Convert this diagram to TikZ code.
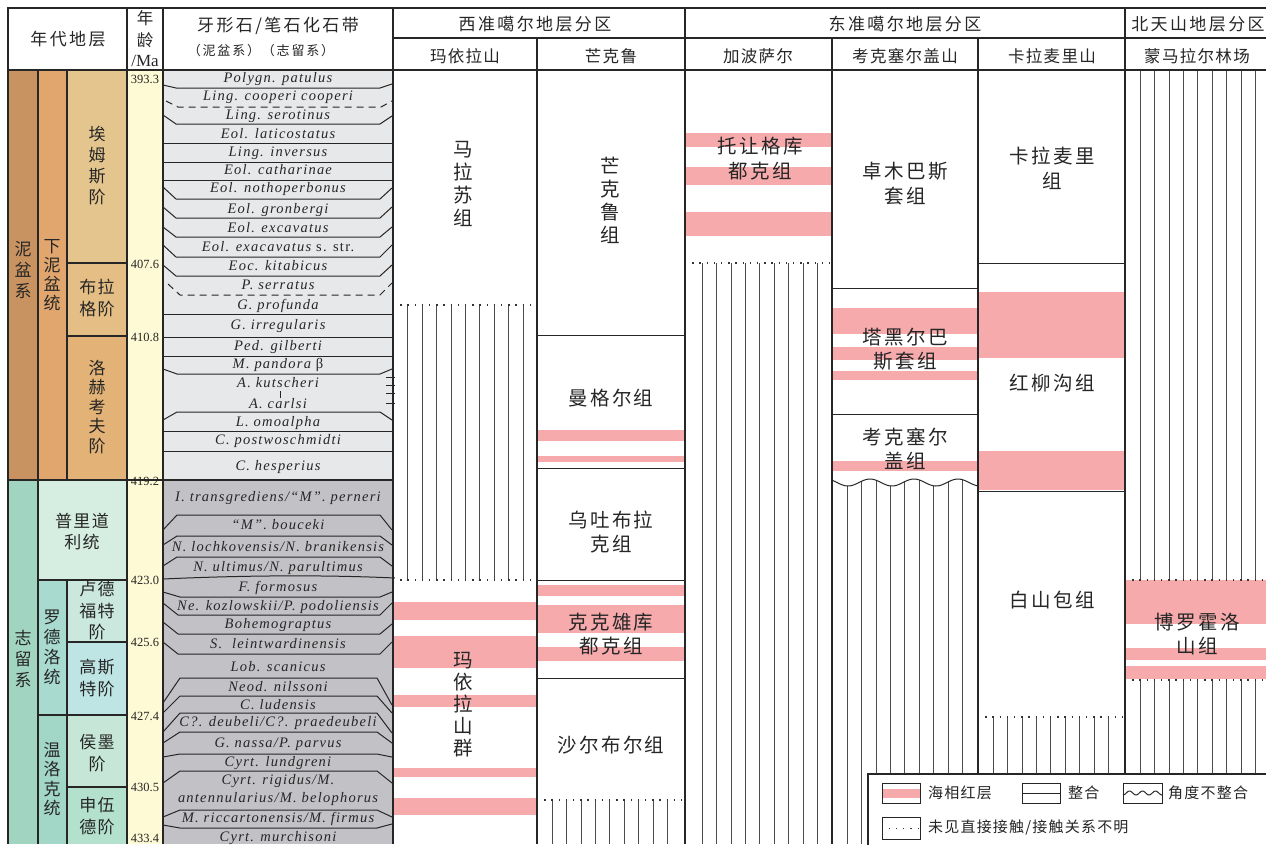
\documentclass[tikz,border=0pt]{standalone}
\usepackage{fontspec}
\setmainfont{Liberation Serif}
\newfontfamily\cjk{Noto Sans CJK SC}[LetterSpace=8]
\newfontfamily\cjkw{Noto Sans CJK SC}[LetterSpace=14]
\newfontfamily\cjkb{Noto Sans CJK SC}[LetterSpace=12]
\newfontfamily\fos{Liberation Serif}[LetterSpace=8.5]
\definecolor{cDev}{RGB}{200,147,96}
\definecolor{cDevL}{RGB}{225,166,110}
\definecolor{cEms}{RGB}{228,197,142}
\definecolor{cPra}{RGB}{228,190,132}
\definecolor{cLoc}{RGB}{226,178,118}
\definecolor{cSil}{RGB}{162,213,193}
\definecolor{cPri}{RGB}{214,237,225}
\definecolor{cLud}{RGB}{168,218,207}
\definecolor{cLdf}{RGB}{203,232,222}
\definecolor{cGor}{RGB}{190,228,228}
\definecolor{cWen}{RGB}{162,214,199}
\definecolor{cHom}{RGB}{198,231,216}
\definecolor{cShe}{RGB}{180,224,206}
\definecolor{cAge}{RGB}{255,250,214}
\definecolor{cFD}{RGB}{231,232,234}
\definecolor{cFS}{RGB}{194,194,198}
\definecolor{pk}{RGB}{246,170,172}
\newcommand\hatchrun[3]{\foreach \i in {0,...,8}{\draw[hat] ({#1+14.45*\i},#2) -- ({#1+14.45*\i},#3);}}
\tikzset{
  grid/.style={line width=1.2pt, draw=black!85},
  bnd/.style={line width=1pt, draw=black!85},
  hat/.style={line width=0.7pt, draw=black!70},
  dotl/.style={line width=1.3pt, draw=black!80, dash pattern=on 1.3pt off 5.9pt},
  fz/.style={font=\fos\fontsize{14.5}{17.5}\selectfont\itshape, inner sep=0pt, text=black!85, text height=10.4pt, text depth=1pt},
  zh/.style={font=\cjkb\fontsize{19.5}{23}\selectfont, align=center, inner sep=0pt, text=black!85},
  zhs/.style={font=\cjk\fontsize{16.5}{20}\selectfont, align=center, inner sep=0pt, text=black!85},
  hd/.style={font=\cjk\fontsize{16.5}{20}\selectfont, align=center, inner sep=0pt, text=black!85},
  hdw/.style={font=\cjkw\fontsize{17}{20}\selectfont, align=center, inner sep=0pt, text=black!85},
  lg/.style={font=\cjk\fontsize{15}{18}\selectfont, anchor=west, inner sep=0pt, text=black!85},
  age/.style={font=\fontsize{12.5}{13}\selectfont, inner sep=0pt, text=black!85},
}
\begin{document}
\begin{tikzpicture}[x=1pt,y=-1pt]
\useasboundingbox (0,0) rectangle (1266,844);
\clip (0,0) rectangle (1266,844);
\fill[white] (0,0) rectangle (1266,844);
% ---------- left chronostratigraphy fills
\fill[cDev] (8,70) rectangle (38,480);
\fill[cDevL] (38,70) rectangle (67,480);
\fill[cEms] (67,70) rectangle (127,263);
\fill[cPra] (67,263) rectangle (127,336);
\fill[cLoc] (67,336) rectangle (127,480);
\fill[cSil] (8,480) rectangle (38,844);
\fill[cPri] (38,480) rectangle (127,580);
\fill[cLud] (38,580) rectangle (67,715);
\fill[cLdf] (67,580) rectangle (127,642);
\fill[cGor] (67,642) rectangle (127,715);
\fill[cWen] (38,715) rectangle (67,844);
\fill[cHom] (67,715) rectangle (127,787);
\fill[cShe] (67,787) rectangle (127,844);
\fill[cAge] (127,70) rectangle (163,844);
\fill[cFD] (163,70) rectangle (393,480);
\fill[cFS] (163,480) rectangle (393,844);
% ---------- pink marine red beds
\foreach \a/\b in {602/620,636/668,695/707,768/777,798/815} \fill[pk] (393,\a) rectangle (537,\b);
\foreach \a/\b in {430/441,456/462,585/596,605/633,647/661} \fill[pk] (537,\a) rectangle (685,\b);
\foreach \a/\b in {133/147,167/185,212/236} \fill[pk] (685,\a) rectangle (832,\b);
\foreach \a/\b in {308/334,347/360,371/380,461/471} \fill[pk] (832,\a) rectangle (978,\b);
\foreach \a/\b in {292/358,451/490} \fill[pk] (978,\a) rectangle (1125,\b);
\foreach \a/\b in {580/624,648/660,666/679} \fill[pk] (1125,\a) rectangle (1266,\b);
% ---------- hatch (gaps)
\hatchrun{407.5}{305}{580}
\hatchrun{702}{263}{844}
\hatchrun{552}{800}{844}
\hatchrun{993}{717}{774}
\hatchrun{1140}{70}{580}
\hatchrun{1140}{680}{774}
\begin{scope}
\clip plot[domain=832:978,samples=80] (\x,{482.5+3.5*cos((\x-848)*8.1818)}) -- (978,850) -- (832,850) -- cycle;
\hatchrun{847}{470}{844}
\end{scope}
\draw[bnd] plot[domain=832:978,samples=80] (\x,{482.5+3.5*cos((\x-848)*8.1818)});
% ---------- dotted contacts
\draw[dotl] (393,305) -- (537,305);
\draw[dotl] (393,580) -- (537,580);
\draw[dotl] (537,800) -- (685,800);
\draw[dotl] (685,263) -- (832,263);
\draw[dotl] (978,717) -- (1125,717);
\draw[dotl] (1125,580) -- (1266,580);
\draw[dotl] (1125,680) -- (1266,680);
% ---------- conformable contacts
\draw[bnd] (537,335) -- (685,335);
\draw[bnd] (537,468) -- (685,468);
\draw[bnd] (537,580) -- (685,580);
\draw[bnd] (537,678) -- (685,678);
\draw[bnd] (832,288) -- (978,288);
\draw[bnd] (832,414) -- (978,414);
\draw[bnd] (978,263) -- (1125,263);
\draw[bnd] (978,491) -- (1125,491);
% ---------- fossil zone boundaries (Devonian)
\draw[bnd] (163,85) -- (176,88) -- (380,88) -- (392,84);
\draw[bnd,dash pattern=on 7pt off 5pt] (166,101) -- (178,107) -- (381,107) -- (392,101);
\draw[bnd] (163,115) -- (176,124) -- (380,124) -- (392,116);
\draw[bnd] (163,143) -- (393,143);
\draw[bnd] (163,162) -- (393,162);
\draw[bnd] (163,180) -- (393,180);
\draw[bnd] (163,187) -- (176,199) -- (380,199) -- (392,188);
\draw[bnd] (163,207) -- (176,218) -- (380,218) -- (392,207);
\draw[bnd] (163,227) -- (176,237) -- (380,237) -- (392,227);
\draw[bnd] (163,245) -- (176,257) -- (380,257) -- (392,245);
\draw[bnd] (163,265) -- (176,276) -- (380,276) -- (392,265);
\draw[bnd,dash pattern=on 7pt off 5pt] (168,284) -- (180,295) -- (380,295) -- (392,283);
\draw[bnd] (163,314) -- (393,314);
\draw[bnd] (163,337) -- (393,337);
\draw[bnd] (163,356) -- (393,356);
\draw[bnd] (163,369) -- (177,374) -- (380,374) -- (392,369);
\draw[bnd] (163,420) -- (177,412) -- (380,412) -- (392,420);
\draw[bnd] (163,431) -- (393,431);
\draw[bnd] (163,451) -- (393,451);
\draw[bnd] (280,391) -- (280,398);
\foreach \yy in {377,385,393,403} \draw[bnd] (386,\yy) -- (395,\yy);
% ---------- fossil zone boundaries (Silurian)
\draw[bnd] (163,530) -- (177,515) -- (380,515) -- (392,530);
\draw[bnd] (163,545) -- (177,536) -- (380,536) -- (392,545);
\draw[bnd] (163,566) -- (177,557) -- (380,557) -- (392,566);
\draw[bnd] (163,579) .. controls (250,575) and (330,575) .. (395,578);
\draw[bnd] (163,592) -- (180,597) -- (380,597) -- (392,592);
\draw[bnd] (163,603) -- (178,615) -- (380,615) -- (392,603);
\draw[bnd] (163,622) -- (178,634) -- (380,634) -- (392,624);
\draw[bnd] (163,642) -- (178,654) -- (380,654) -- (392,642);
\draw[bnd] (163,703) -- (180,678) -- (377,678) -- (392,705);
\draw[bnd] (163,713) -- (180,696) -- (377,696) -- (392,713);
\draw[bnd] (163,732) -- (180,713) -- (377,713) -- (392,733);
\draw[bnd] (163,743) -- (180,732) -- (377,732) -- (392,743);
\draw[bnd] (163,757) -- (180,754) -- (377,754) -- (392,757);
\draw[bnd] (163,783) -- (180,771) -- (377,771) -- (392,783);
\draw[bnd] (163,817) -- (180,810) -- (377,810) -- (392,817);
\draw[bnd] (163,825) -- (180,828) -- (377,828) -- (392,824);
% ---------- grid
\draw[grid] (8,844) -- (8,8) -- (1266,8);
\draw[grid] (8,70) -- (1266,70);
\draw[grid] (393,38) -- (1266,38);
\foreach \xx in {127,163,393,685,1125} \draw[grid] (\xx,8) -- (\xx,844);
\foreach \xx in {537,832,978} \draw[grid] (\xx,38) -- (\xx,844);
\draw[grid] (38,70) -- (38,844);
\draw[grid] (67,70) -- (67,480);
\draw[grid] (67,580) -- (67,844);
\draw[grid] (67,263) -- (127,263);
\draw[grid] (67,336) -- (127,336);
\draw[grid] (8,480) -- (393,480);
\draw[grid] (38,580) -- (127,580);
\draw[grid] (67,642) -- (127,642);
\draw[grid] (38,715) -- (127,715);
\draw[grid] (67,787) -- (127,787);
% ---------- header text
\node[hdw] (h1) at (68,39) {年代地层};
\node[hd,font=\cjk\fontsize{16.5}{22}\selectfont] (h2) at (145,29) {年\\龄};
\node[font=\fontsize{17}{18}\selectfont,inner sep=0pt,text=black!85] (h3) at (145,61) {/Ma};
\node[hdw] (h4) at (278,26) {牙形石/笔石化石带};
\node[hd,font=\cjkw\fontsize{13}{14}\selectfont] (h5) at (261,51) {（泥盆系）（志留系）};
\node[hdw] (h6) at (535,24) {西准噶尔地层分区};
\node[hdw] (h7) at (905,24) {东准噶尔地层分区};
\node[hdw] (h8) at (1198,24) {北天山地层分区};
\node[hd] (h9) at (465,56) {玛依拉山};
\node[hd] (h10) at (611,56) {芒克鲁};
\node[hd] (h11) at (758,56) {加波萨尔};
\node[hd] (h12) at (905,56) {考克塞尔盖山};
\node[hd] (h13) at (1052,56) {卡拉麦里山};
\node[hd] (h14) at (1197,56) {蒙马拉尔林场};
% ---------- chronostratigraphic labels
\node[zhs,font=\cjk\fontsize{17}{21}\selectfont] (c1) at (23,270) {泥\\盆\\系};
\node[zhs,font=\cjk\fontsize{17}{19}\selectfont] (c2) at (52,275) {下\\泥\\盆\\统};
\node[zhs,font=\cjk\fontsize{17}{21}\selectfont] (c3) at (97,166) {埃\\姆\\斯\\阶};
\node[zhs,font=\cjk\fontsize{17}{22}\selectfont] (c4) at (97,298) {布拉\\格阶};
\node[zhs,font=\cjk\fontsize{17}{19.5}\selectfont] (c5) at (97,407) {洛\\赫\\考\\夫\\阶};
\node[zhs,font=\cjk\fontsize{17}{21}\selectfont] (c6) at (23,659) {志\\留\\系};
\node[zhs,font=\cjk\fontsize{17}{21}\selectfont] (c7) at (82,532) {普里道\\利统};
\node[zhs,font=\cjk\fontsize{17}{20}\selectfont] (c8) at (52,647) {罗\\德\\洛\\统};
\node[zhs,font=\cjk\fontsize{17}{21.5}\selectfont] (c9) at (97,611) {卢德\\福特\\阶};
\node[zhs,font=\cjk\fontsize{17}{21.5}\selectfont] (c10) at (97,678) {高斯\\特阶};
\node[zhs,font=\cjk\fontsize{17}{19.5}\selectfont] (c11) at (52,779) {温\\洛\\克\\统};
\node[zhs,font=\cjk\fontsize{17}{22}\selectfont] (c12) at (97,753) {侯墨\\阶};
\node[zhs,font=\cjk\fontsize{17}{22}\selectfont] (c13) at (97,816) {申伍\\德阶};
% ---------- ages
\node[age] (a1) at (145,79) {393.3};
\node[age] (a2) at (145,264) {407.6};
\node[age] (a3) at (145,337) {410.8};
\node[age] (a4) at (145,481) {419.2};
\node[age] (a5) at (145,580) {423.0};
\node[age] (a6) at (145,642) {425.6};
\node[age] (a7) at (145,716) {427.4};
\node[age] (a8) at (145,787) {430.5};
\node[age] (a9) at (145,838) {433.4};
% ---------- fossil zones
\node[fz] (f1) at (278,78) {Polygn. patulus};
\node[fz] (f2) at (278,96) {Ling. cooperi cooperi};
\node[fz] (f3) at (278,115) {Ling. serotinus};
\node[fz] (f4) at (278,134) {Eol. laticostatus};
\node[fz] (f5) at (278,152) {Ling. inversus};
\node[fz] (f6) at (278,170) {Eol. catharinae};
\node[fz] (f7) at (278,188) {Eol. nothoperbonus};
\node[fz] (f8) at (278,209) {Eol. gronbergi};
\node[fz] (f9) at (278,228) {Eol. excavatus};
\node[fz] (f10) at (278,247) {Eol. exacavatus \upshape s. str.};
\node[fz] (f11) at (278,266) {Eoc. kitabicus};
\node[fz] (f12) at (278,285) {P. serratus};
\node[fz] (f13) at (278,305) {G. profunda};
\node[fz] (f14) at (278,325) {G. irregularis};
\node[fz] (f15) at (278,346) {Ped. gilberti};
\node[fz] (f16) at (278,364) {M. pandora \upshape β};
\node[fz] (f17) at (278,383) {A. kutscheri};
\node[fz] (f18) at (278,404) {A. carlsi};
\node[fz] (f19) at (278,422) {L. omoalpha};
\node[fz] (f20) at (278,440) {C. postwoschmidti};
\node[fz] (f21) at (278,466) {C. hesperius};
\node[fz] (f22) at (278,497) {I. transgrediens/“M”. perneri};
\node[fz] (f23) at (278,525) {“M”. bouceki};
\node[fz] (f24) at (278,547) {N. lochkovensis/N. branikensis};
\node[fz] (f25) at (278,567) {N. ultimus/N. parultimus};
\node[fz] (f26) at (278,587) {F. formosus};
\node[fz] (f27) at (278,606) {Ne. kozlowskii/P. podoliensis};
\node[fz] (f28) at (278,624) {Bohemograptus};
\node[fz] (f29) at (278,644) {S.\ \ leintwardinensis};
\node[fz] (f30) at (278,667) {Lob. scanicus};
\node[fz] (f31) at (278,687) {Neod. nilssoni};
\node[fz] (f32) at (278,705) {C. ludensis};
\node[fz] (f33) at (278,722) {C?. deubeli/C?. praedeubeli};
\node[fz] (f34) at (278,743) {G. nassa/P. parvus};
\node[fz] (f35) at (278,762) {Cyrt. lundgreni};
\node[fz] (f36) at (278,780) {Cyrt. rigidus/M.};
\node[fz] (f36b) at (278,798) {antennularius/M. belophorus};
\node[fz] (f37) at (278,818) {M. riccartonensis/M. firmus};
\node[fz] (f38) at (278,837) {Cyrt. murchisoni};
% ---------- formation labels
\node[zh] (m1) at (463,184) {马\\拉\\苏\\组};
\node[zh,font=\cjkb\fontsize{19.5}{22}\selectfont] (m2) at (463,705) {玛\\依\\拉\\山\\群};
\node[zh] (m3) at (610,200) {芒\\克\\鲁\\组};
\node[zh] (m4) at (611,398) {曼格尔组};
\node[zh,font=\cjkb\fontsize{19.5}{24}\selectfont] (m5) at (611,532) {乌吐布拉\\克组};
\node[zh,font=\cjkb\fontsize{19.5}{24}\selectfont] (m6) at (611,634) {克克雄库\\都克组};
\node[zh] (m7) at (611,745) {沙尔布尔组};
\node[zh,font=\cjkb\fontsize{19.5}{25}\selectfont] (m8) at (760,159) {托让格库\\都克组};
\node[zh,font=\cjkb\fontsize{19.5}{25}\selectfont] (m9) at (905,184) {卓木巴斯\\套组};
\node[zh,font=\cjkb\fontsize{19.5}{24}\selectfont] (m10) at (905,349) {塔黑尔巴\\斯套组};
\node[zh,font=\cjkb\fontsize{19.5}{24}\selectfont] (m11) at (905,449) {考克塞尔\\盖组};
\node[zh,font=\cjkb\fontsize{19.5}{25}\selectfont] (m12) at (1052,168) {卡拉麦里\\组};
\node[zh] (m13) at (1052,383) {红柳沟组};
\node[zh] (m14) at (1052,600) {白山包组};
\node[zh,font=\cjkb\fontsize{19.5}{24}\selectfont] (m15) at (1197,634) {博罗霍洛\\山组};
% ---------- legend
\draw[grid,fill=white] (868,774) rectangle (1275,850);
\node[draw=black!85,line width=1pt,minimum width=38pt,minimum height=20pt,inner sep=0pt] (k1) at (901,793) {};
\fill[pk] (882.5,789) rectangle (919.5,798);
\node[lg] (t1) at (928,793) {海相红层};
\node[draw=black!85,line width=1pt,minimum width=38pt,minimum height=20pt,inner sep=0pt] (k2) at (1041,793) {};
\draw[bnd] (k2.west) -- (k2.east);
\node[lg] (t2) at (1068,793) {整合};
\node[draw=black!85,line width=1pt,minimum width=39pt,minimum height=20pt,inner sep=0pt] (k3) at (1142.5,793) {};
\draw[bnd] plot[domain=1123:1162,samples=40] (\x,{793+2*cos((\x-1123)*27.7)});
\node[lg] (t3) at (1168,793) {角度不整合};
\node[draw=black!85,line width=1pt,minimum width=38pt,minimum height=22pt,inner sep=0pt] (k4) at (901,828.5) {};
\draw[dotl,line width=1.1pt] (k4.west) -- (k4.east);
\node[lg] (t4) at (928,828) {未见直接接触/接触关系不明};
\end{tikzpicture}
\end{document}
